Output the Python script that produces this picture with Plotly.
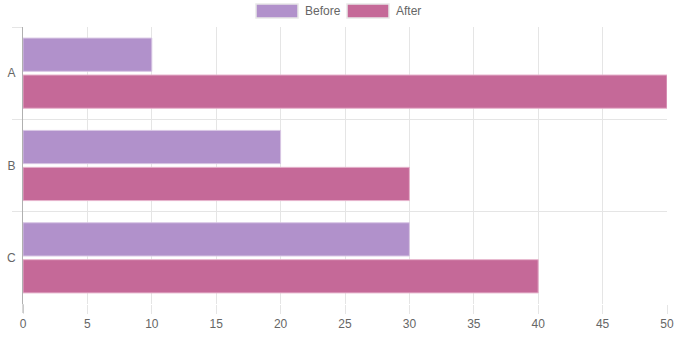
import plotly.graph_objects as go

categories = ["A", "B", "C"]
before_values = [10, 20, 30]
after_values = [50, 30, 40]
series_names = ["Before", "After"]
x_ticks = [0, 5, 10, 15, 20, 25, 30, 35, 40, 45, 50]

before_color = "#b191cb"
after_color = "#c56998"
text_color = "#666666"
font_family = "Liberation Sans, Arial, sans-serif"

fig = go.Figure()
fig.add_trace(go.Bar(
    y=categories, x=before_values, name=series_names[0], orientation="h",
    marker=dict(color=before_color, line=dict(color="#d8c6e4", width=1)),
    showlegend=False,
))
fig.add_trace(go.Bar(
    y=categories, x=after_values, name=series_names[1], orientation="h",
    marker=dict(color=after_color, line=dict(color="#e6b3cc", width=1)),
    showlegend=False,
))

W, H = 680, 338
L, R, T, B = 23, 667, 27, 304
legend_items = [
    (series_names[0], before_color, 256, 298, 303),
    (series_names[1], after_color, 347, 389, 394),
]
for name, col, x0, x1, tx in legend_items:
    fig.add_shape(type="rect", xref="paper", yref="paper",
                  x0=(x0 - L) / (R - L), x1=(x1 - L) / (R - L),
                  y0=(B - 18) / (B - T), y1=(B - 4) / (B - T),
                  fillcolor=col, line=dict(color="#e8e8e8", width=1.5))
    fig.add_annotation(xref="paper", yref="paper",
                       x=(tx - L) / (R - L), y=(B - 11) / (B - T),
                       text=name, showarrow=False, xanchor="left", yanchor="middle",
                       font=dict(size=12, color=text_color, family=font_family))

fig.update_layout(
    template="none",
    width=W, height=H,
    margin=dict(l=L, r=W - R, t=T, b=H - B, pad=0),
    paper_bgcolor="white", plot_bgcolor="white",
    barmode="group", bargap=0.2, bargroupgap=0.1,
    font=dict(family=font_family, size=12, color=text_color),
    xaxis=dict(
        range=[0, 50], tickvals=x_ticks, showgrid=True, gridcolor="#e5e5e5",
        gridwidth=1, zeroline=False, ticks="outside", ticklen=9,
        tickcolor="#e5e5e5", showline=False, automargin=False,
        tickfont=dict(size=12, color=text_color),
    ),
    yaxis=dict(
        autorange="reversed", tickson="boundaries", showgrid=True,
        gridcolor="#e5e5e5", gridwidth=1, ticks="outside", ticklen=10,
        tickcolor="#e5e5e5", showline=True, linecolor="#b0b0b0", linewidth=1,
        tickfont=dict(size=12, color=text_color), ticklabelstandoff=4,
        automargin=False, zeroline=False,
    ),
)
fig.add_shape(type="line", xref="paper", yref="paper", x0=0, x1=0,
              y0=-9 / (B - T), y1=0, line=dict(color="#b0b0b0", width=1))

fig.write_html("out.html")
